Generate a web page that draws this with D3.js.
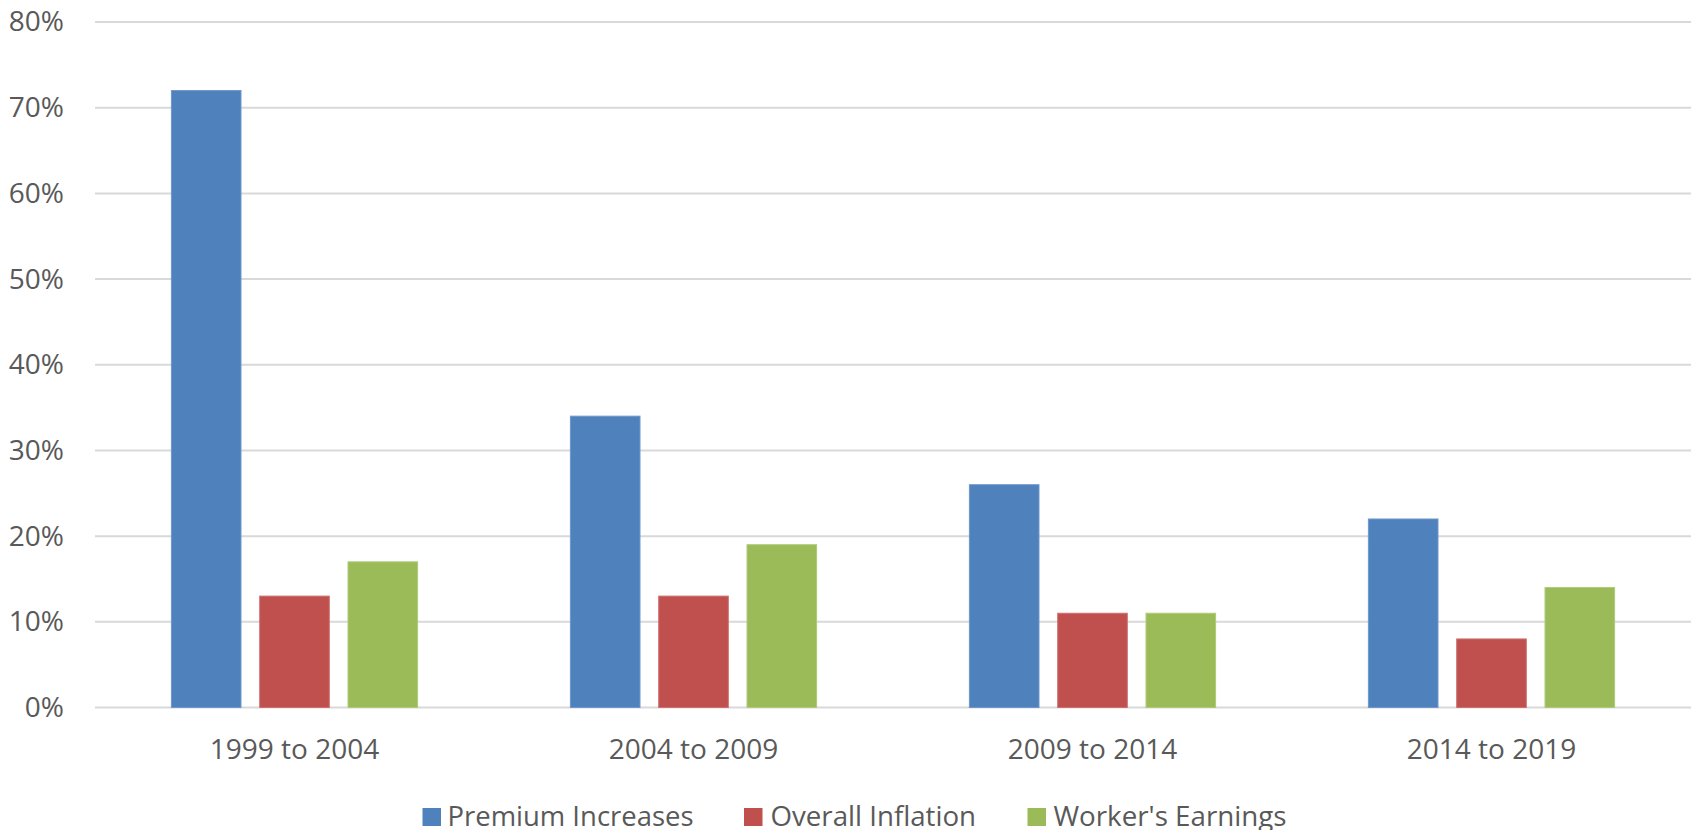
<!DOCTYPE html>
<html>
<head>
<meta charset="utf-8">
<script src="https://cdn.jsdelivr.net/npm/d3@7"></script>
<style>
  html, body { margin: 0; padding: 0; background: #fff; }
  svg { display: block; }
  text { font-family: "Open Sans", sans-serif; fill: #595959; }
</style>
</head>
<body>
<svg id="chart" width="1696" height="830"></svg>
<script>
// Growth over five-year spans
const categories = ["1999 to 2004", "2004 to 2009", "2009 to 2014", "2014 to 2019"];
const seriesNames = ["Premium Increases", "Overall Inflation", "Worker's Earnings"];
const premiumIncreases = [72, 34, 26, 22];
const overallInflation = [13, 13, 11, 8];
const workersEarnings = [17, 19, 11, 14];
const yTicks = [0, 10, 20, 30, 40, 50, 60, 70, 80];

const seriesValues = [premiumIncreases, overallInflation, workersEarnings];
const colors = ["#4F81BD", "#C0504D", "#9BBB59"];
const strokes = ["#6E97CB", "#CC716F", "#AFCB78"];

const svg = d3.select("#chart");
const plot = { left: 95, right: 1691, top: 22, bottom: 707.5 };

const x0 = d3.scaleBand().domain(categories).range([plot.left, plot.right]).paddingInner(0).paddingOuter(0);
const y = d3.scaleLinear().domain([0, 80]).range([plot.bottom, plot.top]);

// Bars sit in a cluster centred in each band
const barW = 69.6, barStep = 88.3;
const x1 = d3.scaleBand().domain(seriesNames).range([0, barStep * 3]);

// Horizontal gridlines
svg.append("g")
  .selectAll("line")
  .data(yTicks)
  .join("line")
  .attr("x1", plot.left).attr("x2", plot.right)
  .attr("y1", d => y(d)).attr("y2", d => y(d))
  .attr("stroke", "#D9D9D9").attr("stroke-width", 2);

// Value axis labels
const yAxis = svg.append("g")
  .attr("transform", `translate(${plot.left},0)`)
  .call(d3.axisLeft(y).tickValues(yTicks).tickSize(0).tickPadding(31).tickFormat(d => d + "%"));
yAxis.select(".domain").remove();
yAxis.selectAll("text")
  .attr("font-size", 28).attr("font-family", "Open Sans, sans-serif").attr("fill", "#595959");

// Clustered bars
const groups = svg.append("g")
  .selectAll("g")
  .data(categories)
  .join("g")
  .attr("transform", c => `translate(${x0(c) + x0.bandwidth() / 2 - barStep * 1.5},0)`);

groups.selectAll("rect")
  .data((c, i) => seriesNames.map((s, j) => ({ s, j, v: seriesValues[j][i] })))
  .join("rect")
  .attr("x", d => x1(d.s) + (barStep - barW) / 2)
  .attr("y", d => y(d.v))
  .attr("width", barW)
  .attr("height", d => y(0) - y(d.v))
  .attr("fill", d => colors[d.j])
  .attr("stroke", d => strokes[d.j])
  .attr("stroke-width", 1);

// Category axis labels
const xAxis = svg.append("g")
  .attr("transform", `translate(0,${plot.bottom})`)
  .call(d3.axisBottom(x0).tickSize(0));
xAxis.select(".domain").remove();
xAxis.selectAll("text")
  .attr("y", 51.5).attr("dy", null)
  .attr("font-size", 28).attr("font-family", "Open Sans, sans-serif").attr("fill", "#595959");

// Legend along the bottom edge
const legendItems = [
  { name: seriesNames[0], sx: 422.5, tx: 447.5, tw: 246 },
  { name: seriesNames[1], sx: 744, tx: 770.5, tw: 205.5 },
  { name: seriesNames[2], sx: 1027.5, tx: 1053.5, tw: 233 }
];
const legend = svg.append("g");
legendItems.forEach((it, i) => {
  legend.append("rect")
    .attr("x", it.sx).attr("y", 808)
    .attr("width", 18.5).attr("height", 18)
    .attr("fill", colors[i]);
  legend.append("text")
    .attr("x", it.tx).attr("y", 826)
    .attr("font-size", 27)
    .attr("textLength", it.tw).attr("lengthAdjust", "spacingAndGlyphs")
    .text(it.name);
});
</script>
</body>
</html>
